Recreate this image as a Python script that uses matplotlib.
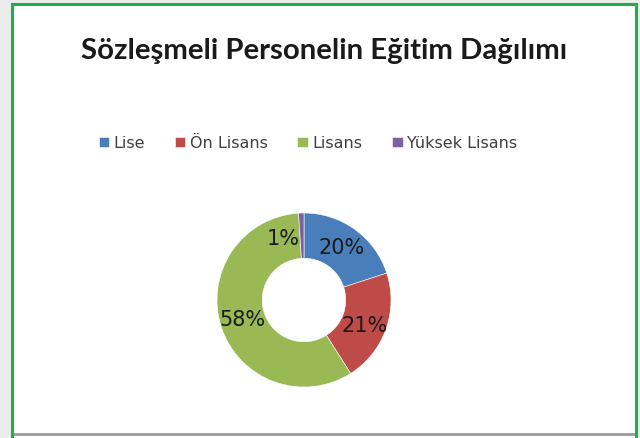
import matplotlib.pyplot as plt
from matplotlib.patches import Rectangle

# veriler
kategoriler = ['Lise', 'Ön Lisans', 'Lisans', 'Yüksek Lisans']
oranlar = [20, 21, 58, 1]
renkler = ['#4a7ebb', '#be4b48', '#98b954', '#7d60a0']
baslik = 'Sözleşmeli Personelin Eğitim Dağılımı'

W, H = 640, 438
fig = plt.figure(figsize=(W / 100, H / 100), dpi=100)
fig.patch.set_facecolor('#ebedea')

# beyaz alan ve yeşil çerçeve
fig.patches.append(Rectangle((12 / W, 0), 624 / W, 1 - 3.5 / H, transform=fig.transFigure,
                             facecolor='white', edgecolor='none', zorder=0))
fig.patches.append(Rectangle((12 / W, -2 / H), 624 / W, 1 - 1.5 / H, transform=fig.transFigure,
                             facecolor='none', edgecolor='#1fae4f', lw=2.2, zorder=5))
fig.add_artist(plt.Line2D([13 / W, 635 / W], [1 - 434 / H] * 2, transform=fig.transFigure,
                          color='#9a9a9a', lw=2))

fig.text(324 / W, 1 - 51 / H, baslik, ha='center', va='center', fontsize=21.2,
         fontweight='bold', family='Lato', color='#1a1a1a')

# halka grafik
cx, cy, r = 304, 300, 87
ax = fig.add_axes([(cx - r) / W, (H - cy - r) / H, 2 * r / W, 2 * r / H])
ax.set_zorder(3)
wedges, texts, autotexts = ax.pie(oranlar, colors=renkler, startangle=90, counterclock=False,
                                  radius=1, wedgeprops=dict(width=0.52, edgecolor='white', linewidth=0.4),
                                  autopct='%1.0f%%', pctdistance=0.74,
                                  textprops=dict(fontsize=15, color='#1a1a1a', family='DejaVu Sans'))
for t in autotexts:
    t.set_clip_on(False)
# %1 etiketi biraz sola, %21 biraz aşağı
x1, y1 = autotexts[3].get_position()
autotexts[3].set_position((x1 - 0.22, y1 - 0.04))
x2, y2 = autotexts[1].get_position()
autotexts[1].set_position((x2, y2 - 0.05))
ax.set_xlim(-1, 1)
ax.set_ylim(-1, 1)
ax.axis('off')

# lejant
leg = fig.legend(wedges, kategoriler, loc='center', bbox_to_anchor=(308 / W, 1 - 143 / H),
                 ncol=4, frameon=False, handlelength=0.65, handleheight=0.65, handletextpad=0.3,
                 columnspacing=1.85, prop=dict(family='DejaVu Sans', size=11.5))
for t in leg.get_texts():
    t.set_color('#404040')

fig.savefig('out.png', dpi=100)
